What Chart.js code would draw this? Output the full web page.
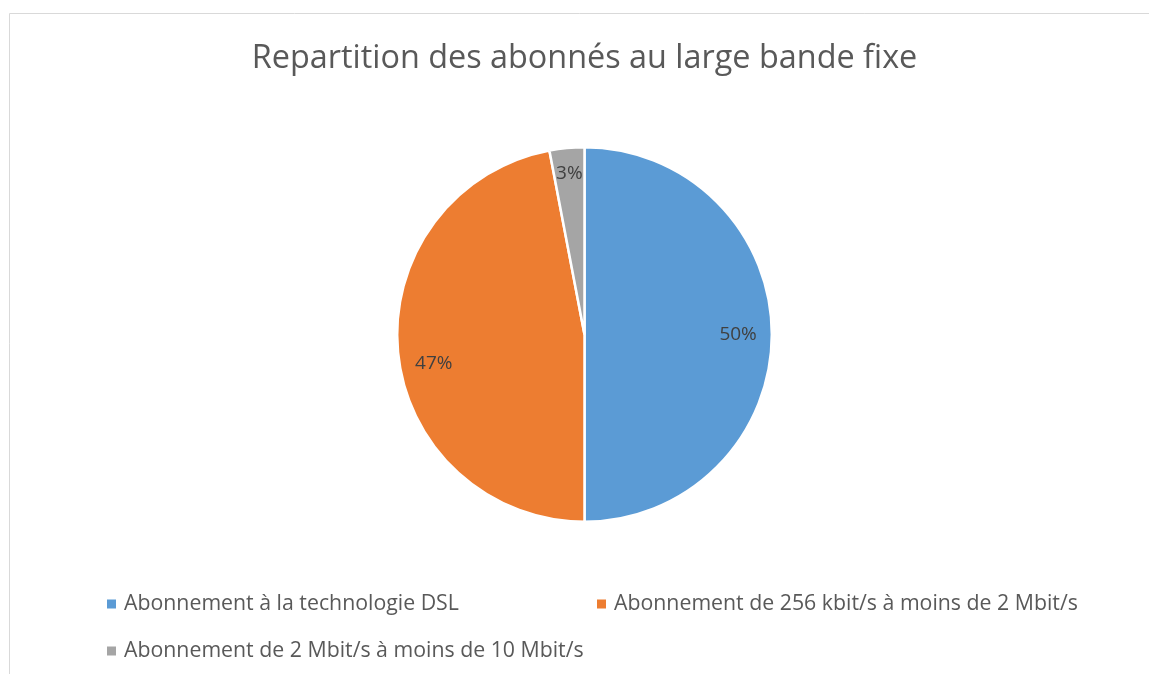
<!DOCTYPE html>
<html>
<head>
<meta charset="utf-8">
<script src="https://cdn.jsdelivr.net/npm/chart.js@4/dist/chart.umd.min.js"></script>
<style>
  html, body { margin: 0; padding: 0; background: #fff; }
  #zone { width: 1149px; height: 674px; }
</style>
</head>
<body>
<div id="zone"><canvas id="grafico"></canvas></div>
<script>
// Les données du graphique
var categories = [
    'Abonnement à la technologie DSL',
    'Abonnement de 256 kbit/s à moins de 2 Mbit/s',
    'Abonnement de 2 Mbit/s à moins de 10 Mbit/s'
];
var valeurs = [50, 47, 3];
var couleurs = ['#5B9BD5', '#ED7D31', '#A5A5A5'];
var titre = 'Repartition des abonnés au large bande fixe';

var police = "'Open Sans', 'Noto Sans', sans-serif";

// cadre gris autour du graphique
var cadre = {
    id: 'cadre',
    beforeDraw: function(chart){
        var c = chart.ctx;
        c.save();
        c.strokeStyle = '#D9D9D9';
        c.lineWidth = 1;
        c.beginPath();
        c.moveTo(9.5, 674);
        c.lineTo(9.5, 13.5);
        c.lineTo(1149, 13.5);
        c.stroke();
        c.restore();
    }
};

// pourcentages dans les parts
var etiquettes = {
    id: 'etiquettes',
    afterDatasetsDraw: function(chart){
        var c = chart.ctx;
        var meta = chart.getDatasetMeta(0);
        var total = valeurs.reduce(function(a, b){ return a + b; }, 0);
        c.save();
        c.font = '19px ' + police;
        c.fillStyle = '#404040';
        c.textAlign = 'center';
        c.textBaseline = 'middle';
        meta.data.forEach(function(arc, i){
            var p = arc.getProps(['x', 'y', 'startAngle', 'endAngle', 'outerRadius'], true);
            var milieu = (p.startAngle + p.endAngle) / 2;
            // Excel décale un peu l'étiquette de la part orange vers le bas
            if (i == 1) milieu -= 0.1;
            var r = p.outerRadius * (i == 2 ? 0.86 : 0.82);
            var pct = Math.round(valeurs[i] / total * 100) + '%';
            c.fillText(pct, p.x + Math.cos(milieu) * r, p.y + Math.sin(milieu) * r);
        });
        c.restore();
    }
};

// légende en deux colonnes comme dans Excel
var legende = {
    id: 'legende',
    afterDraw: function(chart){
        var c = chart.ctx;
        var colX = [107, 597];
        var ligneY = [604, 651];
        c.save();
        c.font = '21.3px ' + police;
        c.textBaseline = 'middle';
        categories.forEach(function(nom, i){
            var x = colX[i % 2];
            var y = ligneY[Math.floor(i / 2)];
            c.fillStyle = couleurs[i];
            c.fillRect(x, y - 4.5, 9, 9);
            c.fillStyle = '#595959';
            c.fillText(nom, x + 17, y);
        });
        c.restore();
    }
};

var ctx = document.getElementById('grafico');
var grafico = new Chart(ctx, {
    type: 'pie',
    data: {
        labels: categories,
        datasets: [{
            data: valeurs,
            backgroundColor: couleurs,
            borderColor: '#FFFFFF',
            borderWidth: 2.5
        }]
    },
    options: {
        responsive: true,
        maintainAspectRatio: false,
        animation: false,
        layout: {
            padding: { left: 20, right: 0, top: 14, bottom: 151 }
        },
        plugins: {
            legend: { display: false },
            tooltip: { enabled: false },
            title: {
                display: true,
                text: titre,
                color: '#595959',
                font: { family: police, size: 32.4, weight: 'normal', lineHeight: 1.2 },
                padding: { top: 25, bottom: 68 }
            }
        }
    },
    plugins: [cadre, etiquettes, legende]
});
</script>
</body>
</html>
